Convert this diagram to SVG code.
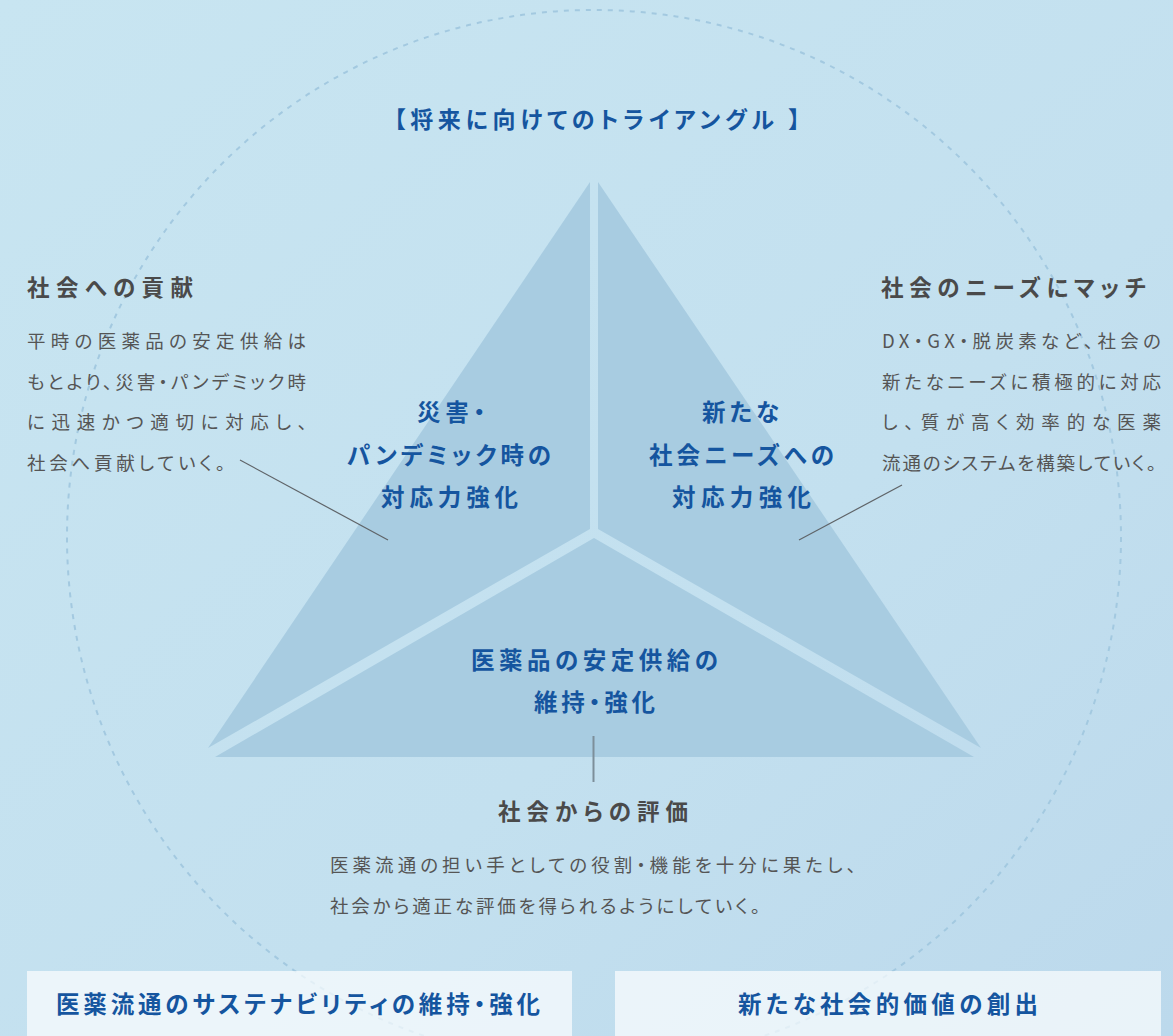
<svg xmlns="http://www.w3.org/2000/svg" width="1173" height="1036" viewBox="0 0 1173 1036">
  <defs>
    <linearGradient id="bg" x1="0" y1="0" x2="1" y2="1">
      <stop offset="0" stop-color="#c8e5f1"/>
      <stop offset="0.6" stop-color="#c3e0ef"/>
      <stop offset="1" stop-color="#bcd9ec"/>
    </linearGradient>
    <style>
      .jp { font-family: "Noto Sans CJK JP", "Noto Sans", sans-serif; font-feature-settings: "palt"; }
      .title { font-size: 23px; font-weight: 700; fill: #15559f; }
      .head { font-size: 22.5px; font-weight: 700; fill: #4a4a4a; }
      .body { font-size: 18.5px; font-weight: 400; fill: #555555; }
      .blue { font-size: 23.5px; font-weight: 700; fill: #15559f; }
      .piece { fill: #a8cce1; }
      .conn { stroke: #5f6468; stroke-width: 1.2; fill: none; }
      .box { fill: #ffffff; fill-opacity: 0.68; }
    </style>
  </defs>

  <rect x="0" y="0" width="1173" height="1036" fill="url(#bg)"/>

  <!-- dashed circle -->
  <circle cx="594" cy="537" r="527" fill="none" stroke="#a3c9e0" stroke-width="2" stroke-dasharray="5 6"/>

  <!-- title -->
  <g id="title">
    <text class="jp title" x="394" y="128" textLength="406" lengthAdjust="spacing">【将来に向けてのトライアングル 】</text>
  </g>

  <!-- triangle pieces -->
  <g id="piece-left">
    <polygon class="piece" points="590,182 590,529 208,748"/>
    <text class="jp blue" x="417" y="421" textLength="68" lengthAdjust="spacing">災害・</text>
    <text class="jp blue" x="347" y="464" textLength="204" lengthAdjust="spacing">パンデミック時の</text>
    <text class="jp blue" x="381" y="506" textLength="137" lengthAdjust="spacing">対応力強化</text>
  </g>
  <g id="piece-right">
    <polygon class="piece" points="598,182 598,529 981,748"/>
    <text class="jp blue" x="702" y="421" textLength="77" lengthAdjust="spacing">新たな</text>
    <text class="jp blue" x="649" y="464" textLength="185" lengthAdjust="spacing">社会ニーズへの</text>
    <text class="jp blue" x="672" y="506" textLength="139" lengthAdjust="spacing">対応力強化</text>
  </g>
  <g id="piece-bottom">
    <polygon class="piece" points="594,538 215,757 974,757"/>
    <text class="jp blue" x="471" y="669" textLength="247" lengthAdjust="spacing">医薬品の安定供給の</text>
    <text class="jp blue" x="534" y="711" textLength="121" lengthAdjust="spacing">維持・強化</text>
  </g>

  <!-- connectors -->
  <g id="connectors">
    <line class="conn" x1="240" y1="460" x2="388" y2="540"/>
    <line class="conn" x1="902" y1="485" x2="799" y2="540"/>
    <line x1="593.5" y1="736" x2="593.5" y2="782" stroke="#7d8f9a" stroke-width="2"/>
  </g>

  <!-- left description -->
  <g id="contribution">
    <text class="jp head" x="27" y="296" textLength="166" lengthAdjust="spacing">社会への貢献</text>
    <text class="jp body" x="27" y="348" textLength="279" lengthAdjust="spacing">平時の医薬品の安定供給は</text>
    <text class="jp body" x="27" y="389" textLength="279" lengthAdjust="spacing">もとより、災害・パンデミック時</text>
    <text class="jp body" x="27" y="429" textLength="280" lengthAdjust="spacing">に迅速かつ適切に対応し、</text>
    <text class="jp body" x="27" y="470" textLength="198" lengthAdjust="spacing">社会へ貢献していく。</text>
  </g>

  <!-- right description -->
  <g id="needs">
    <text class="jp head" x="881" y="296" textLength="265" lengthAdjust="spacing">社会のニーズにマッチ</text>
    <text class="jp body" x="882" y="348" textLength="279" lengthAdjust="spacing">DX・GX・脱炭素など、社会の</text>
    <text class="jp body" x="882" y="389" textLength="279" lengthAdjust="spacing">新たなニーズに積極的に対応</text>
    <text class="jp body" x="882" y="429" textLength="279" lengthAdjust="spacing">し、質が高く効率的な医薬</text>
    <text class="jp body" x="882" y="470" textLength="274" lengthAdjust="spacing">流通のシステムを構築していく。</text>
  </g>

  <!-- bottom description -->
  <g id="evaluation">
    <text class="jp head" x="498" y="820" textLength="190" lengthAdjust="spacing">社会からの評価</text>
    <text class="jp body" x="330" y="872" textLength="526" lengthAdjust="spacing">医薬流通の担い手としての役割・機能を十分に果たし、</text>
    <text class="jp body" x="330" y="913" textLength="430" lengthAdjust="spacing">社会から適正な評価を得られるようにしていく。</text>
  </g>

  <!-- bottom boxes -->
  <g id="box-sustainability">
    <rect class="box" x="27" y="971" width="545" height="70"/>
    <text class="jp blue" x="56" y="1013" textLength="484" lengthAdjust="spacing">医薬流通のサステナビリティの維持・強化</text>
  </g>
  <g id="box-value">
    <rect class="box" x="615" y="971" width="546" height="70"/>
    <text class="jp blue" x="738" y="1013" textLength="300" lengthAdjust="spacing">新たな社会的価値の創出</text>
  </g>
</svg>
